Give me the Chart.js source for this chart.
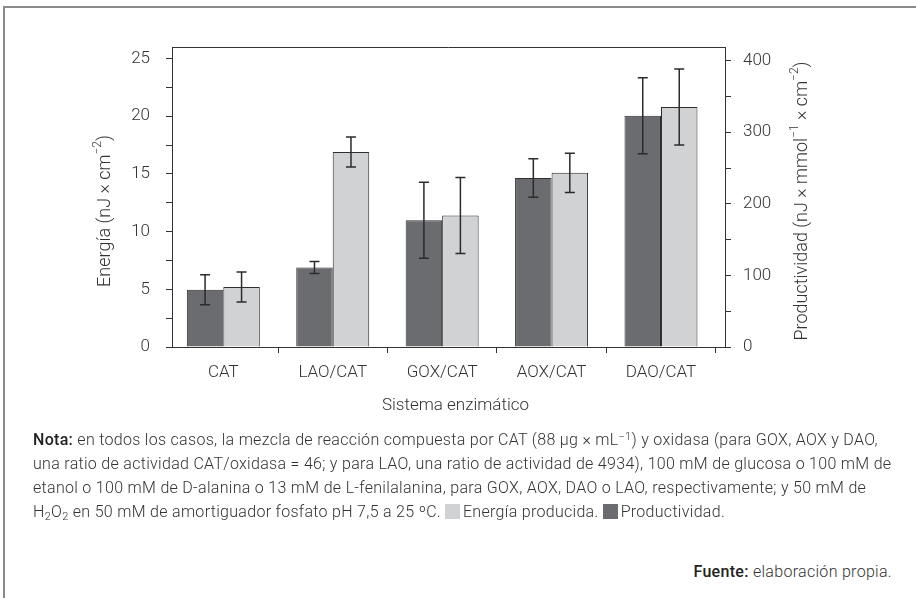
<!DOCTYPE html>
<html><head><meta charset="utf-8">
<script src="https://cdn.jsdelivr.net/npm/chart.js@4"></script>
<style>
html,body{margin:0;padding:0;background:#fff;}
#wrap{position:relative;width:916px;height:598px;overflow:hidden;font-family:Roboto,"Liberation Sans",sans-serif;font-weight:300;color:#333;}
#frame{position:absolute;left:3px;top:6px;right:-10px;bottom:-10px;border-top:2px solid #8a8a8a;border-left:2px solid #8a8a8a;}
#c{position:absolute;left:0;top:0;}
#note{position:absolute;left:33px;top:428px;font-size:16px;letter-spacing:0.3px;line-height:24px;white-space:nowrap;}
#src{position:absolute;right:24px;top:560px;font-size:16px;letter-spacing:0.3px;line-height:24px;white-space:nowrap;}
b{font-weight:500;color:#222;}
sup,sub{font-size:11px;line-height:0;}
sup{vertical-align:5px;}
sub{vertical-align:-3px;}
.sq{display:inline-block;width:15px;height:15px;vertical-align:-2px;margin:0 3px 0 4px;}
</style></head>
<body><div id="wrap">
<div id="frame"></div>
<canvas id="c" width="916" height="430"></canvas>
<div id="note"><b>Nota:</b> en todos los casos, la mezcla de reacción compuesta por CAT (88 µg × mL<sup>−1</sup>) y oxidasa (para GOX, AOX y DAO,<br>una ratio de actividad CAT/oxidasa = 46; y para LAO, una ratio de actividad de 4934), 100 mM de glucosa o 100 mM de<br>etanol o 100 mM de D-alanina o 13 mM de L-fenilalanina, para GOX, AOX, DAO o LAO, respectivamente; y 50 mM de<br>H<sub>2</sub>O<sub>2</sub> en 50 mM de amortiguador fosfato pH 7,5 a 25 ºC.<span class="sq" style="background:#d1d2d4"></span>Energía producida.<span class="sq" style="background:#6b6c70"></span>Productividad.</div>
<div id="src"><b>Fuente:</b> elaboración propia.</div>
</div>
<script>
const categories = ['CAT', 'LAO/CAT', 'GOX/CAT', 'AOX/CAT', 'DAO/CAT'];
const productividad = [80, 111, 177, 236, 323];
const productividadErr = [21, 8.5, 53, 27, 53];
const energia = [5.2, 16.9, 11.4, 15.1, 20.8];
const energiaErr = [1.3, 1.3, 3.3, 1.7, 3.3];
const energiaAxis = {min: 0, max: 26, step: 2.5, labelEvery: 5};
const productividadAxis = {min: 0, max: 419, step: 50, labelEvery: 100};
const energiaTitle = [{t: 'Energía (nJ × cm'}, {t: '−2', sup: true}, {t: ')'}];
const productividadTitle = [{t: 'Productividad (nJ × mmol'}, {t: '−1', sup: true}, {t: ' × cm'}, {t: '−2', sup: true}, {t: ')'}];
const xTitle = [{t: 'Sistema enzimático'}];

const FAM = 'Roboto, "Liberation Sans", sans-serif';
const FONT = {family: FAM, size: 17, weight: '300'};
const TXT = '#333';

function drawRich(ctx, parts, cx, cy, rot, size) {
  ctx.save();
  ctx.translate(cx, cy); ctx.rotate(rot);
  const main = `300 ${size}px ${FAM}`;
  const small = `300 ${Math.round(size * 0.66)}px ${FAM}`;
  let w = 0;
  const widths = parts.map(p => { ctx.font = p.sup ? small : main; const m = ctx.measureText(p.t).width; w += m; return m; });
  let x = -w / 2;
  ctx.fillStyle = TXT; ctx.textBaseline = 'middle'; ctx.textAlign = 'left';
  parts.forEach((p, i) => { ctx.font = p.sup ? small : main; ctx.fillText(p.t, x, p.sup ? -size * 0.38 : 0); x += widths[i]; });
  ctx.restore();
}

const errorBars = {
  id: 'errorBars',
  afterDatasetsDraw(chart) {
    const ctx = chart.ctx;
    chart.data.datasets.forEach((ds, di) => {
      const meta = chart.getDatasetMeta(di);
      const ys = chart.scales[meta.yAxisID];
      meta.data.forEach((el, i) => {
        const v = ds.data[i].y, e = ds.errors[i];
        const x = el.x, y1 = ys.getPixelForValue(v + e), y2 = ys.getPixelForValue(v - e);
        ctx.save();
        ctx.strokeStyle = '#2b2b2b'; ctx.lineWidth = 1.5;
        ctx.beginPath();
        ctx.moveTo(x, y1); ctx.lineTo(x, y2);
        ctx.moveTo(x - 5, y1); ctx.lineTo(x + 5, y1);
        ctx.moveTo(x - 5, y2); ctx.lineTo(x + 5, y2);
        ctx.stroke();
        ctx.restore();
      });
    });
    const a = chart.chartArea;
    ctx.save();
    ctx.strokeStyle = '#333'; ctx.lineWidth = 1;
    ctx.beginPath(); ctx.moveTo(a.left, a.top + 0.5); ctx.lineTo(a.right, a.top + 0.5); ctx.stroke();
    ctx.restore();
  },
  afterDraw(chart) {
    const ctx = chart.ctx;
    const yl = chart.scales.y, xs = chart.scales.x;
    const mid = (yl.top + yl.bottom) / 2;
    drawRich(ctx, energiaTitle, 105, mid + 14, -Math.PI / 2, 18);
    drawRich(ctx, productividadTitle, 802, mid + 4, -Math.PI / 2, 18);
    drawRich(ctx, xTitle, (xs.left + xs.right) / 2 + 7, 406, 0, 17);
  }
};

const tickGrid = {display: true, drawOnChartArea: false, drawTicks: true, tickLength: 6, tickColor: '#333', tickWidth: 1};

new Chart(document.getElementById('c'), {
  type: 'bar',
  data: {
    datasets: [
      {label: 'Productividad', data: productividad.map((v, i) => ({x: i, y: v})), errors: productividadErr,
       yAxisID: 'y1', backgroundColor: '#6b6c70', borderColor: '#2e2e2e', borderWidth: 1},
      {label: 'Energía producida', data: energia.map((v, i) => ({x: i, y: v})), errors: energiaErr,
       yAxisID: 'y', backgroundColor: '#d1d2d4', borderColor: '#2e2e2e', borderWidth: 1}
    ]
  },
  options: {
    responsive: false, animation: false, devicePixelRatio: 1,
    categoryPercentage: 0.667, barPercentage: 1.0,
    layout: {padding: {top: 47, left: 0, right: 0, bottom: 0}},
    plugins: {legend: {display: false}, tooltip: {enabled: false}},
    scales: {
      x: {
        type: 'linear', min: -0.469, max: 4.585, offset: false,
        afterBuildTicks: s => { s.ticks = categories.map((c, i) => ({value: i})); },
        ticks: {callback: v => categories[v] ?? '', autoSkip: false, maxRotation: 0, padding: 10, font: FONT, color: TXT},
        grid: tickGrid,
        border: {display: true, color: '#333', width: 1},
        title: {display: false},
        afterFit: s => { s.height = 83; }
      },
      y: {
        type: 'linear', position: 'left', min: energiaAxis.min, max: energiaAxis.max,
        ticks: {stepSize: energiaAxis.step, includeBounds: false, callback: v => (v % energiaAxis.labelEvery === 0 ? v : ''), padding: 16, font: FONT, color: TXT},
        grid: tickGrid,
        border: {display: true, color: '#333', width: 1},
        title: {display: false},
        afterFit: s => { s.width = 172; }
      },
      y1: {
        type: 'linear', position: 'right', min: productividadAxis.min, max: productividadAxis.max,
        ticks: {stepSize: productividadAxis.step, includeBounds: false, callback: v => (v % productividadAxis.labelEvery === 0 ? v : ''), padding: 12, font: FONT, color: TXT},
        grid: tickGrid,
        border: {display: true, color: '#333', width: 1},
        title: {display: false},
        afterFit: s => { s.width = 191; }
      }
    }
  },
  plugins: [errorBars]
});
</script>
</body></html>
